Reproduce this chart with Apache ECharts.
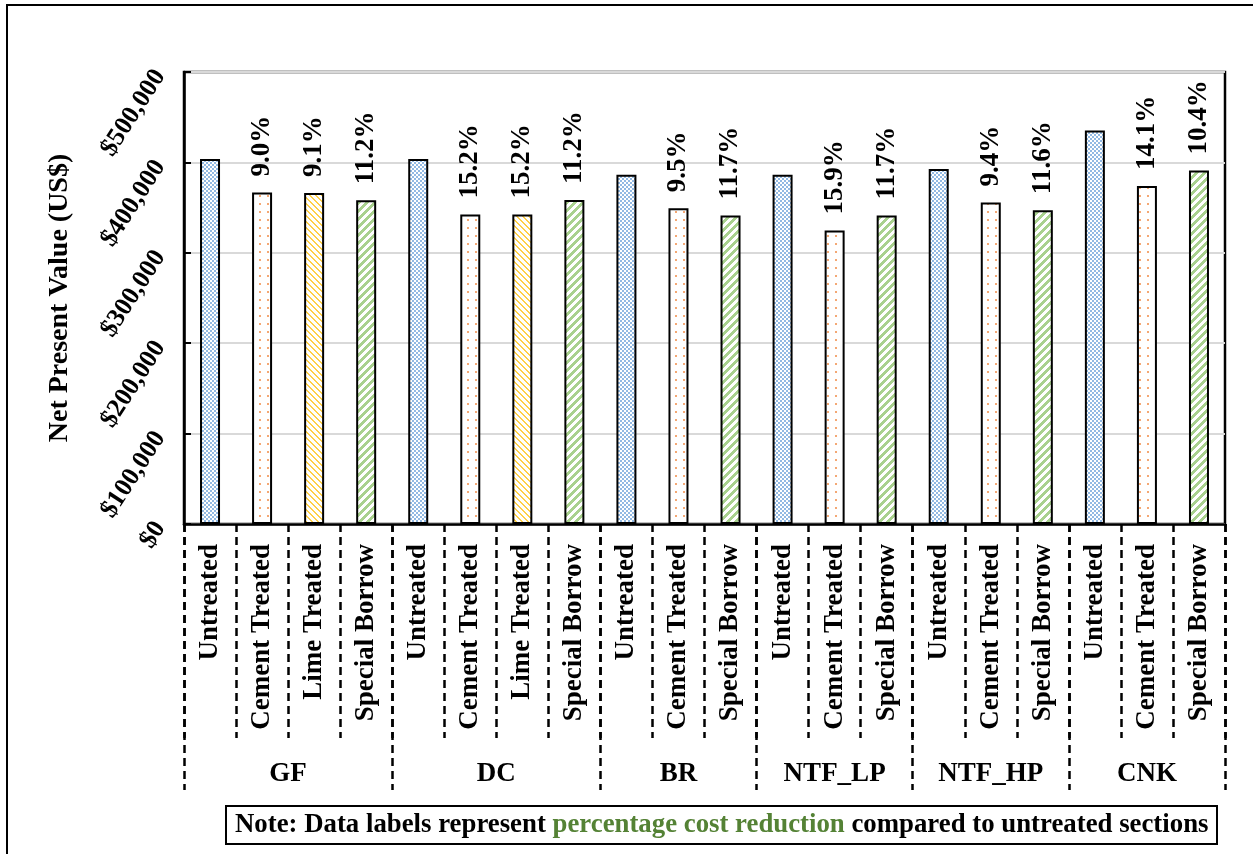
<!DOCTYPE html>
<html>
<head>
<meta charset="utf-8">
<script src="https://cdn.jsdelivr.net/npm/echarts@6/dist/echarts.min.js"></script>
<style>
html,body{margin:0;padding:0;background:#fff;}
#chart{width:1253px;height:854px;}
</style>
</head>
<body>
<div id="chart"></div>
<script>
// ---- data ----
const groups = ['GF', 'DC', 'BR', 'NTF_LP', 'NTF_HP', 'CNK'];
const untreated     = [403800, 403800, 386400, 386400, 392800, 435400];
const cementTreated = [366800, 342400, 349300, 324600, 355600, 374000];
const limeTreated   = [366200, 342400, null, null, null, null];
const specialBorrow = [358000, 358400, 341200, 341200, 347200, 391000];
const cementPct  = ['9.0%', '15.2%', '9.5%', '15.9%', '9.4%', '14.1%'];
const limePct    = ['9.1%', '15.2%', null, null, null, null];
const specialPct = ['11.2%', '11.2%', '11.7%', '11.7%', '11.6%', '10.4%'];
const treatmentNames = ['Untreated', 'Cement Treated', 'Lime Treated', 'Special Borrow'];
const yTicks = { min: 0, max: 500000, interval: 100000 };

// ---- build flat categories ----
const categories = [];
const sData = [[], [], [], []];
const sLabels = [[], [], [], []];
const groupSizes = [];
groups.forEach((g, gi) => {
  const vals = [untreated[gi], cementTreated[gi], limeTreated[gi], specialBorrow[gi]];
  const pcts = [null, cementPct[gi], limePct[gi], specialPct[gi]];
  let n = 0;
  vals.forEach((v, ti) => {
    if (v == null) return;
    categories.push(treatmentNames[ti]);
    for (let k = 0; k < 4; k++) {
      sData[k].push(k === ti ? v : '-');
      sLabels[k].push(k === ti ? pcts[ti] : null);
    }
    n++;
  });
  groupSizes.push(n);
});
const groupBounds = [0];
groupSizes.forEach(n => groupBounds.push(groupBounds[groupBounds.length - 1] + n));
const groupCenters = groupSizes.map((n, i) => groupBounds[i] + n / 2);

// ---- patterns ----
function makeTile(w, h, draw) {
  const c = document.createElement('canvas');
  c.width = w; c.height = h;
  const ctx = c.getContext('2d');
  ctx.fillStyle = '#ffffff';
  ctx.fillRect(0, 0, w, h);
  draw(ctx);
  return c;
}
const checker = makeTile(4, 4, ctx => {
  ctx.fillStyle = '#92B9E3';
  ctx.fillRect(0, 0, 2, 2);
  ctx.fillRect(2, 2, 2, 2);
});
const dots = makeTile(8, 8, ctx => {
  ctx.fillStyle = '#F4A874';
  ctx.fillRect(3, 3, 2, 2);
});
const downDiag = makeTile(6, 6, ctx => {
  ctx.fillStyle = '#FFCF47';
  for (let y = 0; y < 6; y++) {
    ctx.fillRect(y % 6, y, 1, 1);
    ctx.fillRect((y + 1) % 6, y, 1, 1);
  }
});
const upDiag = makeTile(8, 8, ctx => {
  ctx.fillStyle = '#A9D18E';
  for (let y = 0; y < 8; y++) {
    for (let k = 0; k < 4; k++) {
      ctx.fillRect((7 - y + k + 8) % 8, y, 1, 1);
    }
  }
});
const fills = [checker, dots, downDiag, upDiag];

const FONT = '"Times New Roman", "Liberation Serif", serif';

const series = fills.map((img, k) => ({
  type: 'bar',
  name: treatmentNames[k],
  xAxisIndex: 0,
  data: sData[k],
  barWidth: 20,
  barGap: '-100%',
  itemStyle: {
    color: { image: img, repeat: 'repeat' },
    borderColor: '#000',
    borderWidth: 2
  },
  label: {
    show: k > 0,
    position: 'top',
    distance: 16,
    rotate: 90,
    align: 'left',
    verticalAlign: 'middle',
    fontFamily: FONT,
    fontWeight: 'bold',
    fontSize: 27,
    color: '#000',
    formatter: p => sLabels[k][p.dataIndex] || ''
  }
}));

const chart = echarts.init(document.getElementById('chart'));
chart.setOption({
  backgroundColor: '#fff',
  animation: false,
  title: {
    text: '{a|Note: Data labels represent }{g|percentage cost reduction}{a| compared to untreated sections}',
    left: 226,
    top: 806,
    borderColor: '#000',
    borderWidth: 2,
    padding: [6, 9, 5, 9],
    textStyle: {
      rich: {
        a: { fontFamily: FONT, fontWeight: 'bold', fontSize: 26.8, color: '#000' },
        g: { fontFamily: FONT, fontWeight: 'bold', fontSize: 26.8, color: '#548235' }
      }
    }
  },
  graphic: [{
    type: 'rect',
    shape: { x: 7, y: 5, width: 1400, height: 1000 },
    style: { fill: 'none', stroke: '#000', lineWidth: 2 },
    silent: true
  }],
  grid: {
    left: 184, right: 28, top: 72, bottom: 330,
    show: true, borderColor: '#000', borderWidth: 2.5, backgroundColor: 'transparent'
  },
  xAxis: [{
    type: 'category',
    data: categories,
    position: 'bottom',
    axisLine: { show: true, lineStyle: { color: '#000', width: 2.5 } },
    axisTick: {
      show: true, interval: 0, length: 214,
      lineStyle: { color: '#000', width: 2.5, type: [8, 5] }
    },
    axisLabel: {
      interval: 0, rotate: 90, margin: 20,
      fontFamily: FONT, fontWeight: 'bold', fontSize: 27, color: '#000'
    },
    splitLine: { show: false }
  }, {
    type: 'value',
    min: 0, max: categories.length,
    position: 'bottom',
    axisLine: { show: false },
    splitLine: { show: false },
    axisTick: {
      show: true, length: 266, customValues: groupBounds,
      lineStyle: { color: '#000', width: 2.5, type: [8, 5] }
    },
    axisLabel: {
      show: true, customValues: groupCenters, margin: 237,
      fontFamily: FONT, fontWeight: 'bold', fontSize: 27, color: '#000',
      formatter: v => {
        const i = groupCenters.findIndex(c => Math.abs(c - v) < 1e-6);
        return i >= 0 ? groups[i] : '';
      }
    }
  }],
  yAxis: {
    type: 'value',
    min: yTicks.min, max: yTicks.max, interval: yTicks.interval,
    name: 'Net Present Value (US$)',
    nameLocation: 'middle',
    nameRotate: 90,
    nameGap: 110,
    nameTextStyle: { fontFamily: FONT, fontWeight: 'bold', fontSize: 28, color: '#000' },
    axisLine: { show: true, lineStyle: { color: '#000', width: 2.5 } },
    axisTick: { show: true, inside: true, length: 7, lineStyle: { color: '#000', width: 2 } },
    axisLabel: {
      rotate: 57, margin: 24,
      fontFamily: FONT, fontWeight: 'bold', fontSize: 26, color: '#000',
      formatter: v => '$' + v.toLocaleString('en-US')
    },
    splitLine: { show: true, lineStyle: { color: '#D9D9D9', width: 2 } }
  },
  series: series
});
</script>
</body>
</html>
